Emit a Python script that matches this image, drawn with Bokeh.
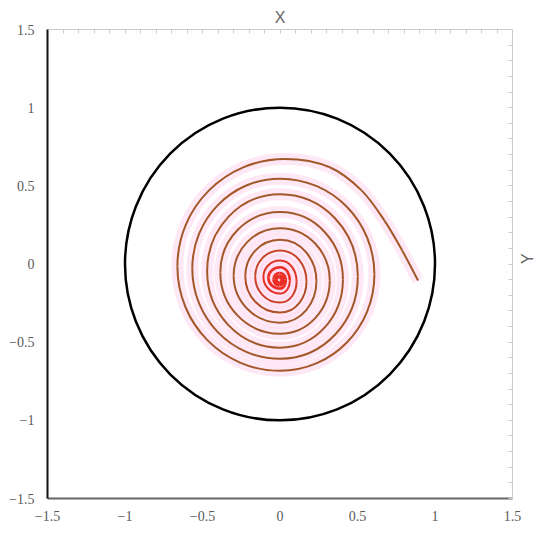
import numpy as np
from bokeh.plotting import figure
from bokeh.models import ColumnDataSource, LinearAxis, FixedTicker, Range1d
from bokeh.embed import file_html
from bokeh.resources import INLINE

# ---- data ----
tick_values = [-1.5, -1, -0.5, 0, 0.5, 1, 1.5]
tick_labels = ["\u22121.5", "\u22121", "\u22120.5", "0", "0.5", "1", "1.5"]

circle_x = [0.0]
circle_y = [0.0]
circle_d = [2.0]  # diameter (unit circle)

# outer tail of the spiral (starting at its free end)
tail_x = [0.891, 0.788, 0.673, 0.526, 0.321]
tail_y = [-0.106, 0.087, 0.279, 0.471, 0.619]

# extreme points of each quarter turn, going inward: top, left, bottom, right, ...
turn_x = [0.032, -0.662, 0.000, 0.609,
          0.000, -0.566, 0.000, 0.502,
          0.000, -0.470, 0.000, 0.406,
          0.000, -0.385, 0.000, 0.321,
          0.000, -0.299, 0.000, 0.235,
          0.000, -0.224, 0.000, 0.171,
          0.000, -0.160, 0.000, 0.107,
          0.000, -0.107, 0.000, 0.064,
          0.000, -0.075, 0.000, 0.038,
          -0.003, -0.042, -0.003, 0.026,
          -0.004, -0.029, -0.004, 0.016,
          -0.004, -0.022, -0.004, 0.010,
          -0.004]
turn_y = [0.672, -0.016, -0.683, -0.067,
          0.546, -0.029, -0.606, -0.080,
          0.446, -0.045, -0.535, -0.099,
          0.332, -0.054, -0.446, -0.106,
          0.229, -0.074, -0.375, -0.110,
          0.155, -0.078, -0.311, -0.112,
          0.087, -0.080, -0.247, -0.112,
          0.022, -0.083, -0.189, -0.106,
          -0.021, -0.088, -0.157, -0.099,
          -0.058, -0.099, -0.138, -0.101,
          -0.074, -0.101, -0.125, -0.101,
          -0.083, -0.101, -0.119, -0.101,
          -0.090]

# ---- smooth curve through the read points (Bezier segments) ----
P = np.column_stack([tail_x + turn_x, tail_y + turn_y])
n = len(P)
nt = len(tail_x)
dirs = [(-1.0, 0.0), (0.0, -1.0), (1.0, 0.0), (0.0, 1.0)]
T = np.zeros((n, 2))
for i in range(n):
    if i >= nt:
        T[i] = dirs[(i - nt) % 4]
    elif i == 0:
        d = P[1] - P[0]
        T[i] = d / np.linalg.norm(d)
    else:
        a = P[i] - P[i - 1]
        b = P[i + 1] - P[i]
        t = a / np.linalg.norm(a) + b / np.linalg.norm(b)
        T[i] = t / np.linalg.norm(t)

x0, y0, x1, y1, cx0, cy0, cx1, cy1, cols, widths = [], [], [], [], [], [], [], [], [], []
brown = np.array([163, 88, 42])
red = np.array([234, 46, 36])
cen = P[-1]
for i in range(n - 1):
    A, B = P[i], P[i + 1]
    L = np.linalg.norm(B - A)
    th = np.arccos(np.clip(np.dot(T[i], T[i + 1]), -1, 1))
    c = (2.0 / 3.0) * np.tan(th / 4) / np.sin(th / 2) if th > 1e-3 else 1.0 / 3.0
    C0 = A + T[i] * c * L
    C1 = B - T[i + 1] * c * L
    x0.append(A[0]); y0.append(A[1]); x1.append(B[0]); y1.append(B[1])
    cx0.append(C0[0]); cy0.append(C0[1]); cx1.append(C1[0]); cy1.append(C1[1])
    d = np.linalg.norm((A + B) / 2 - cen)
    f = float(np.clip((0.17 - d) / 0.11, 0, 1))
    rgb = (brown * (1 - f) + red * f).astype(int)
    cols.append("#%02x%02x%02x" % tuple(rgb))
    widths.append(2.6 if d < 0.05 else 2.0)

src = ColumnDataSource(dict(x0=x0, y0=y0, x1=x1, y1=y1, cx0=cx0, cy0=cy0,
                            cx1=cx1, cy1=cy1, color=cols, w=widths))

# ---- figure ----
p = figure(width=547, height=535, output_backend="svg",
           toolbar_location=None, x_range=Range1d(-1.5, 1.5),
           y_range=Range1d(-1.5, 1.5),
           min_border_left=47, min_border_top=29, min_border_right=31,
           min_border_bottom=37)
p.outline_line_color = None
p.grid.visible = False
p.background_fill_color = "white"

label_font = "Liberation Serif"
overrides = {v: s for v, s in zip(tick_values, tick_labels)}

for ax, col in ((p.xaxis[0], "#666666"), (p.yaxis[0], "#111111")):
    ax.ticker = FixedTicker(ticks=tick_values)
    ax.major_label_overrides = overrides
    ax.axis_line_color = col
    ax.axis_line_width = 2
    ax.major_tick_line_color = None
    ax.minor_tick_line_color = None
    ax.major_tick_in = 0
    ax.major_tick_out = 0
    ax.major_label_text_font = label_font
    ax.major_label_text_font_size = "14px"
    ax.major_label_text_color = "#5a5a5a"
p.xaxis.major_label_standoff = 12
p.yaxis.major_label_standoff = 13

minor = [round(-1.5 + 0.1 * k, 1) for k in range(31)]
top = LinearAxis(axis_label="X")
right = LinearAxis(axis_label="Y")
for ax in (top, right):
    ax.ticker = FixedTicker(ticks=[], minor_ticks=minor)
    ax.axis_line_color = "#cccccc"
    ax.major_tick_line_color = None
    ax.minor_tick_line_color = "#cccccc"
    ax.minor_tick_in = 4
    ax.minor_tick_out = 0
    ax.major_label_standoff = 0
    ax.axis_label_text_font = "Liberation Sans"
    ax.axis_label_text_font_style = "normal"
    ax.axis_label_text_font_size = "16px"
    ax.axis_label_text_color = "#666666"
top.axis_label_standoff = 4
right.axis_label_standoff = 15
try:
    right.axis_label_orientation = np.pi / 2
except Exception:
    pass
p.add_layout(top, "above")
p.add_layout(right, "right")

# spiral glow then spiral
p.bezier(x0="x0", y0="y0", x1="x1", y1="y1", cx0="cx0", cy0="cy0",
         cx1="cx1", cy1="cy1", source=src, line_color="#ffd9ee",
         line_width=12, line_alpha=0.6)
p.bezier(x0="x0", y0="y0", x1="x1", y1="y1", cx0="cx0", cy0="cy0",
         cx1="cx1", cy1="cy1", source=src, line_color="color", line_width="w")

# unit circle
p.ellipse(x=circle_x, y=circle_y, width=circle_d, height=circle_d,
          fill_color=None, line_color="black", line_width=2.5)

open("out.html", "w").write(file_html(p, INLINE))
